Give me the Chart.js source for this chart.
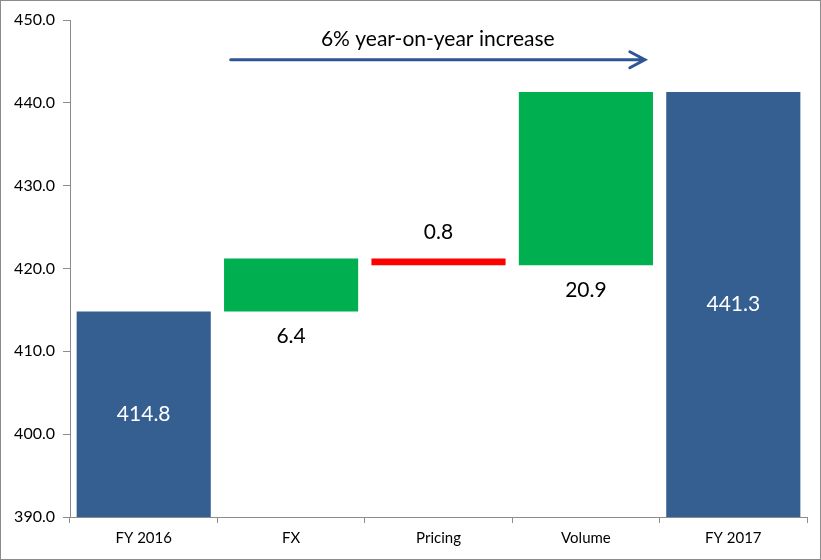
<!DOCTYPE html>
<html>
<head>
<meta charset="utf-8">
<script src="https://cdn.jsdelivr.net/npm/chart.js@4/dist/chart.umd.min.js"></script>
<style>
  body { margin: 0; background: #fff; }
  #wrap { width: 821px; height: 560px; box-sizing: border-box; border: 1px solid #8c8c8c; }
</style>
</head>
<body>
<div id="wrap"><canvas id="chart" width="819" height="558"></canvas></div>
<script>
const categories = ["FY 2016", "FX", "Pricing", "Volume", "FY 2017"];
const changes = [414.8, 6.4, -0.8, 20.9, 441.3];
const labelText = ["414.8", "6.4", "0.8", "20.9", "441.3"];
const yTicks = [390, 400, 410, 420, 430, 440, 450];
const arrowNote = "6% year-on-year increase";

// build floating ranges for the waterfall
const ranges = [];
let running = 0;
changes.forEach((v, i) => {
    if (i === 0 || i === changes.length - 1) {
        ranges.push([390, v]);
        running = v;
    } else {
        ranges.push([running, running + v]);
        running += v;
    }
});
const colors = changes.map((v, i) =>
    (i === 0 || i === changes.length - 1) ? '#365F91' : (v >= 0 ? '#00B050' : '#FF0000'));

const font = "Lato, 'Open Sans', sans-serif";

const labelsPlugin = {
    id: 'labels',
    afterDatasetsDraw(chart) {
        const ctx = chart.ctx;
        const y = chart.scales.y;
        const meta = chart.getDatasetMeta(0);
        ctx.save();
        ctx.font = "21px " + font;
        ctx.textAlign = 'center';
        ctx.textBaseline = 'middle';
        meta.data.forEach((bar, i) => {
            const lo = Math.min(...ranges[i]), hi = Math.max(...ranges[i]);
            let py;
            if (i === 0 || i === ranges.length - 1) {
                ctx.fillStyle = '#fff';
                py = y.getPixelForValue((lo + hi) / 2);
            } else if (changes[i] < 0) {
                ctx.fillStyle = '#000';
                py = y.getPixelForValue(hi) - 26;
            } else {
                ctx.fillStyle = '#000';
                py = y.getPixelForValue(lo) + 25;
            }
            ctx.fillText(labelText[i], bar.x, py);
        });

        // year-on-year arrow
        const x = chart.scales.x;
        const x0 = x.getPixelForValue(0.59), x1 = x.getPixelForValue(3.4);
        const ay = y.getPixelForValue(445.2);
        ctx.strokeStyle = '#2F5597';
        ctx.lineWidth = 3;
        ctx.lineCap = 'round';
        ctx.beginPath();
        ctx.moveTo(x0, ay);
        ctx.lineTo(x1, ay);
        ctx.moveTo(x1 - 15, ay - 8);
        ctx.lineTo(x1, ay);
        ctx.lineTo(x1 - 15, ay + 8);
        ctx.stroke();
        ctx.fillStyle = '#000';
        ctx.font = "21px " + font;
        ctx.fillText(arrowNote, (x0 + x1) / 2, y.getPixelForValue(447.7));
        ctx.restore();
    }
};

new Chart(document.getElementById('chart'), {
    type: 'bar',
    data: {
        labels: categories,
        datasets: [{
            data: ranges,
            backgroundColor: colors,
            borderSkipped: false,
            categoryPercentage: 1,
            barPercentage: 0.91
        }]
    },
    options: {
        responsive: false,
        animation: false,
        layout: { padding: { top: 19, right: 13, bottom: 0, left: 0 } },
        plugins: { legend: { display: false }, tooltip: { enabled: false } },
        scales: {
            x: {
                grid: { offset: true, drawOnChartArea: false, tickLength: 6, color: '#8c8c8c' },
                border: { color: '#8c8c8c' },
                ticks: { color: '#000', font: { size: 15, family: font }, padding: 6 },
                afterFit(s) { s.height = 42; }
            },
            y: {
                min: 390,
                max: 450,
                afterBuildTicks(s) { s.ticks = yTicks.map(v => ({ value: v })); },
                grid: { drawOnChartArea: false, tickLength: 7, color: '#8c8c8c' },
                border: { color: '#8c8c8c' },
                ticks: { color: '#000', font: { size: 16, family: font }, padding: 8,
                         callback: v => v.toFixed(1) },
                afterFit(s) { s.width = 69; }
            }
        }
    },
    plugins: [labelsPlugin]
});
</script>
</body>
</html>
